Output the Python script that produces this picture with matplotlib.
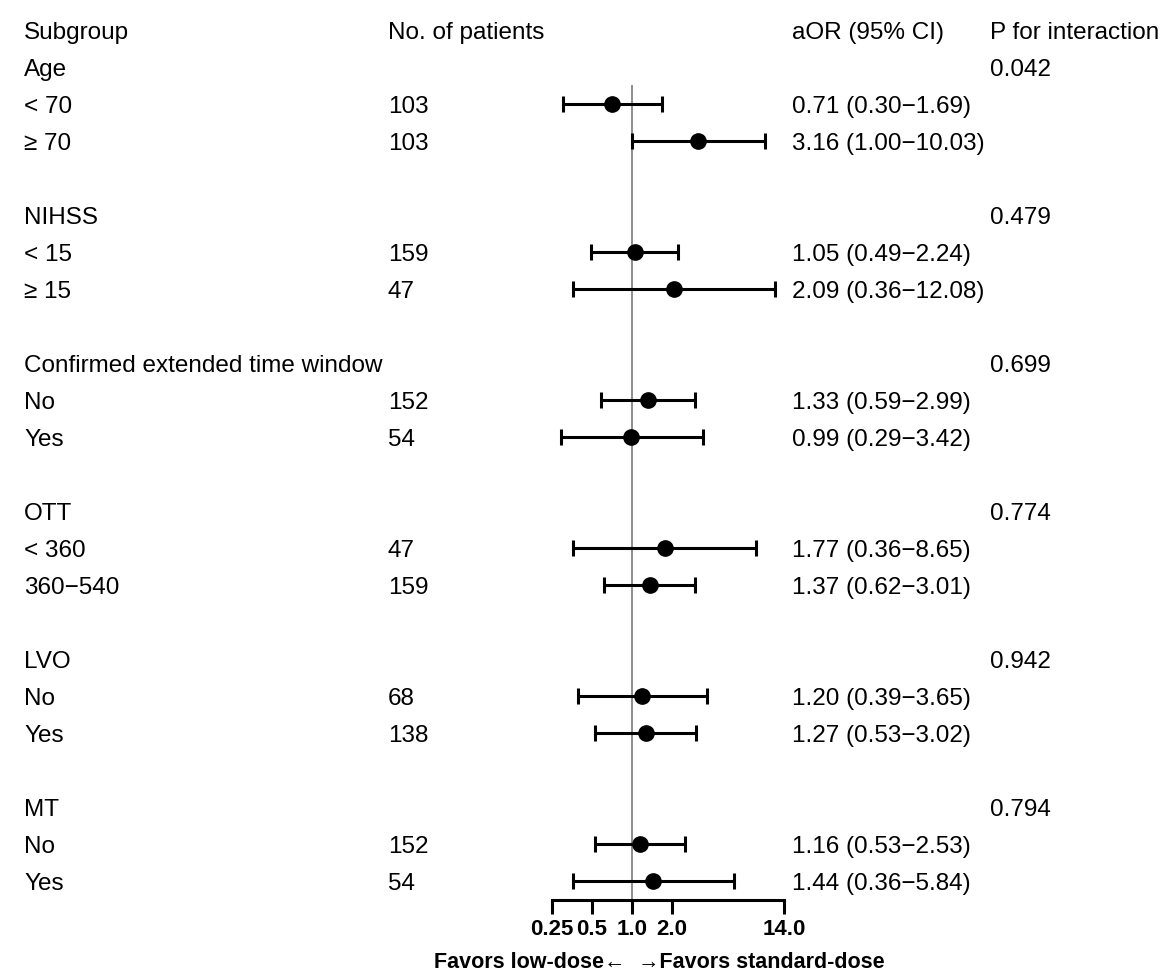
import numpy as np
import matplotlib.pyplot as plt
import matplotlib.transforms as mtransforms

plt.rcParams['font.family'] = ['Liberation Sans', 'DejaVu Sans']

# rows below the header line
labels = ["Age", "< 70", "\u2265 70", "",
          "NIHSS", "< 15", "\u2265 15", "",
          "Confirmed extended time window", "No", "Yes", "",
          "OTT", "< 360", "360\u2212540", "",
          "LVO", "No", "Yes", "",
          "MT", "No", "Yes"]
n_patients = ["", "103", "103", "",
              "", "159", "47", "",
              "", "152", "54", "",
              "", "47", "159", "",
              "", "68", "138", "",
              "", "152", "54"]
aor = [np.nan, 0.71, 3.16, np.nan,
       np.nan, 1.05, 2.09, np.nan,
       np.nan, 1.33, 0.99, np.nan,
       np.nan, 1.77, 1.37, np.nan,
       np.nan, 1.20, 1.27, np.nan,
       np.nan, 1.16, 1.44]
ci_low = [np.nan, 0.30, 1.00, np.nan,
          np.nan, 0.49, 0.36, np.nan,
          np.nan, 0.59, 0.29, np.nan,
          np.nan, 0.36, 0.62, np.nan,
          np.nan, 0.39, 0.53, np.nan,
          np.nan, 0.53, 0.36]
ci_high = [np.nan, 1.69, 10.03, np.nan,
           np.nan, 2.24, 12.08, np.nan,
           np.nan, 2.99, 3.42, np.nan,
           np.nan, 8.65, 3.01, np.nan,
           np.nan, 3.65, 3.02, np.nan,
           np.nan, 2.53, 5.84]
p_interaction = ["0.042", "", "", "",
                 "0.479", "", "", "",
                 "0.699", "", "", "",
                 "0.774", "", "", "",
                 "0.942", "", "", "",
                 "0.794", "", ""]
headers = ["Subgroup", "No. of patients", "aOR (95% CI)", "P for interaction"]
xticks = [0.25, 0.5, 1.0, 2.0, 14.0]
xtick_labels = ["0.25", "0.5", "1.0", "2.0", "14.0"]

W, H = 1170, 980
fig = plt.figure(figsize=(W / 100, H / 100), dpi=100)

row0 = 29.9
row_h = 37.05
top_px = row0 - 0.5 * row_h
bot_px = 900
ax = fig.add_axes([552 / W, (H - bot_px) / H, (784 - 552) / W, (bot_px - top_px) / H])
ax.set_xscale('log', base=2)
ax.set_xlim(0.25, 14)
ax.set_ylim(23.5, -0.5)

rows = np.arange(1, len(labels) + 1)
est = np.array(aor)
lo = np.array(ci_low)
hi = np.array(ci_high)
mask = ~np.isnan(est)

ax.vlines(1, 1.5, 23.5, color='#7a7a7a', lw=1.2, zorder=1)
ax.errorbar(est[mask], rows[mask], xerr=[est[mask] - lo[mask], hi[mask] - est[mask]],
            fmt='o', color='black', ms=11, elinewidth=2.2, capsize=5.5, capthick=2.2,
            clip_on=False, zorder=3)

for s in ['left', 'top', 'right']:
    ax.spines[s].set_visible(False)
ax.spines['bottom'].set_linewidth(2.2)
ax.set_yticks([])
ax.set_xticks(xticks)
ax.set_xticklabels(xtick_labels, fontsize=16, fontweight='bold')
ax.minorticks_off()
ax.tick_params(axis='x', length=10, width=2.2, pad=4)
ax.patch.set_visible(False)

fs = 17.5
dy = 0.235  # baseline offset so letters sit centred on the row
trans = mtransforms.blended_transform_factory(fig.transFigure, ax.transData)
col_x = [24 / W, 388 / W, 792 / W, 990 / W]
for x, h in zip(col_x, headers):
    ax.text(x, dy, h, transform=trans, fontsize=fs, va='baseline', ha='left')

for i, r in enumerate(rows):
    ax.text(col_x[0], r + dy, labels[i], transform=trans, fontsize=fs, va='baseline')
    ax.text(col_x[1], r + dy, n_patients[i], transform=trans, fontsize=fs, va='baseline')
    if mask[i]:
        ci = f"{aor[i]:.2f} ({ci_low[i]:.2f}\u2212{ci_high[i]:.2f})"
        ax.text(col_x[2], r + dy, ci, transform=trans, fontsize=fs, va='baseline')
    ax.text(col_x[3], r + dy, p_interaction[i], transform=trans, fontsize=fs, va='baseline')

fig.text(625 / W, (H - 962) / H, "Favors low-dose\u2190", fontsize=15.5, fontweight='bold',
         ha='right', va='center')
fig.text(638 / W, (H - 962) / H, "\u2192Favors standard-dose", fontsize=15.5, fontweight='bold',
         ha='left', va='center')

fig.savefig("out.png", dpi=100)
